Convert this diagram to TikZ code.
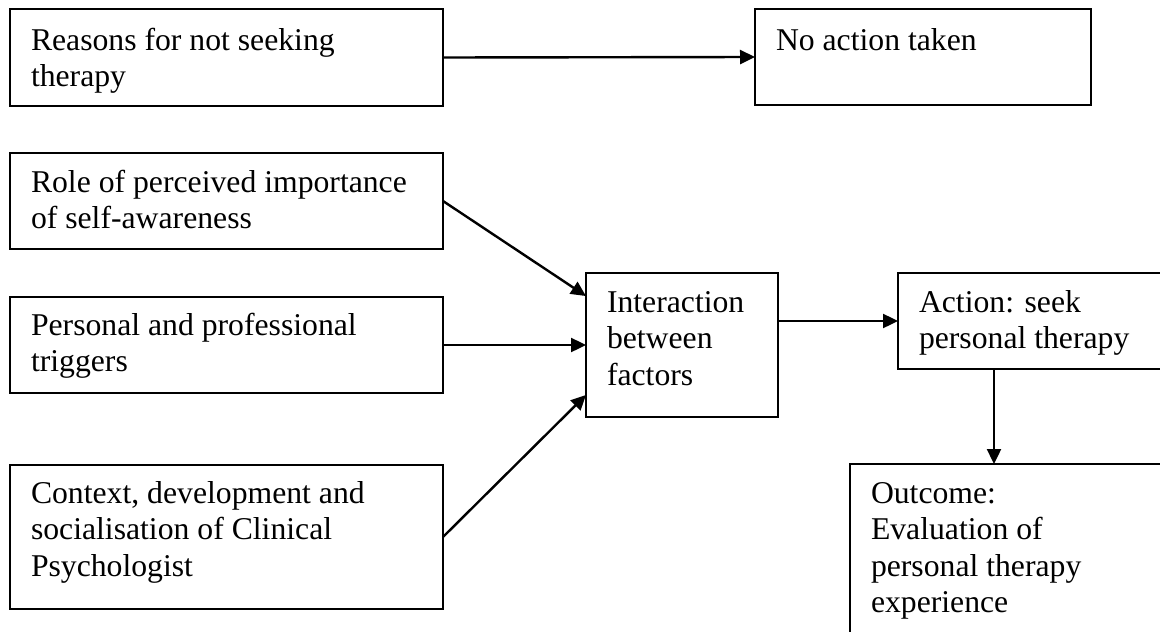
\documentclass[tikz,border=0pt]{standalone}
\usepackage{fontspec}
\setmainfont{Liberation Serif}
\usetikzlibrary{arrows.meta,calc}

\newcommand\boxfont{\fontsize{31.7pt}{36.5pt}\selectfont}
\newcommand\boxtext[1]{\parbox[t]{420pt}{\raggedright #1}}

\begin{document}
\begin{tikzpicture}[x=1pt,y=-1pt,
  frame/.style={draw=black, line width=1.6pt, inner sep=0pt, outer sep=0pt, anchor=north west},
  boxlabel/.style={anchor=base west, inner sep=0pt, outer sep=0pt, font=\boxfont},
  flow/.style={draw=black, line width=2.4pt, -{Triangle[length=15pt,width=14pt]}}
]
\useasboundingbox (0,0) rectangle (1160,632);

% boxes
\node[frame, minimum width=433pt, minimum height=97pt]  (b1) at (10,9)   {};
\node[frame, minimum width=336pt, minimum height=96pt]  (b2) at (755,9)  {};
\node[frame, minimum width=433pt, minimum height=96pt]  (b3) at (10,153) {};
\node[frame, minimum width=433pt, minimum height=96pt]  (b4) at (10,297) {};
\node[frame, minimum width=433pt, minimum height=144pt] (b5) at (10,465) {};
\node[frame, minimum width=192pt, minimum height=144pt] (b6) at (586,273) {};
\node[frame, minimum width=280pt, minimum height=96pt]  (b7) at (898,273) {};
\node[frame, minimum width=330pt, minimum height=220pt] (b8) at (850,464) {};

% box texts
\node[boxlabel] (t1) at (31,50)   {\boxtext{Reasons for not seeking\\therapy}};
\node[boxlabel] (t2) at (776,50)  {\boxtext{No action taken}};
\node[boxlabel] (t3) at (31,192)  {\boxtext{Role of perceived importance\\of self-awareness}};
\node[boxlabel] (t4) at (31,335)  {\boxtext{Personal and professional\\triggers}};
\node[boxlabel] (t5) at (31,503)  {\boxtext{Context, development and\\socialisation of Clinical\\Psychologist}};
\node[boxlabel] (t6) at (607,312) {\boxtext{Interaction\\between\\factors}};
\node[boxlabel] (t7) at (919,312) {\boxtext{Action: seek\\personal therapy}};
\node[boxlabel] (t8) at (871,503) {\boxtext{Outcome:\\Evaluation of\\personal therapy\\experience}};

% connectors
\coordinate (drop) at (994,0);
\draw[flow] (b1.east) -- (b2.west);
\draw[flow] (b3.east) -- ($(b6.north west)!0.16!(b6.south west)$);
\draw[flow] (b4.east) -- (b6.west);
\draw[flow] (b5.east) -- ($(b6.north west)!0.847!(b6.south west)$);
\draw[flow] (b6.east |- b7.west) -- (b7.west);
\draw[flow] (b7.south -| drop) -- (b8.north -| drop);
\end{tikzpicture}
\end{document}
